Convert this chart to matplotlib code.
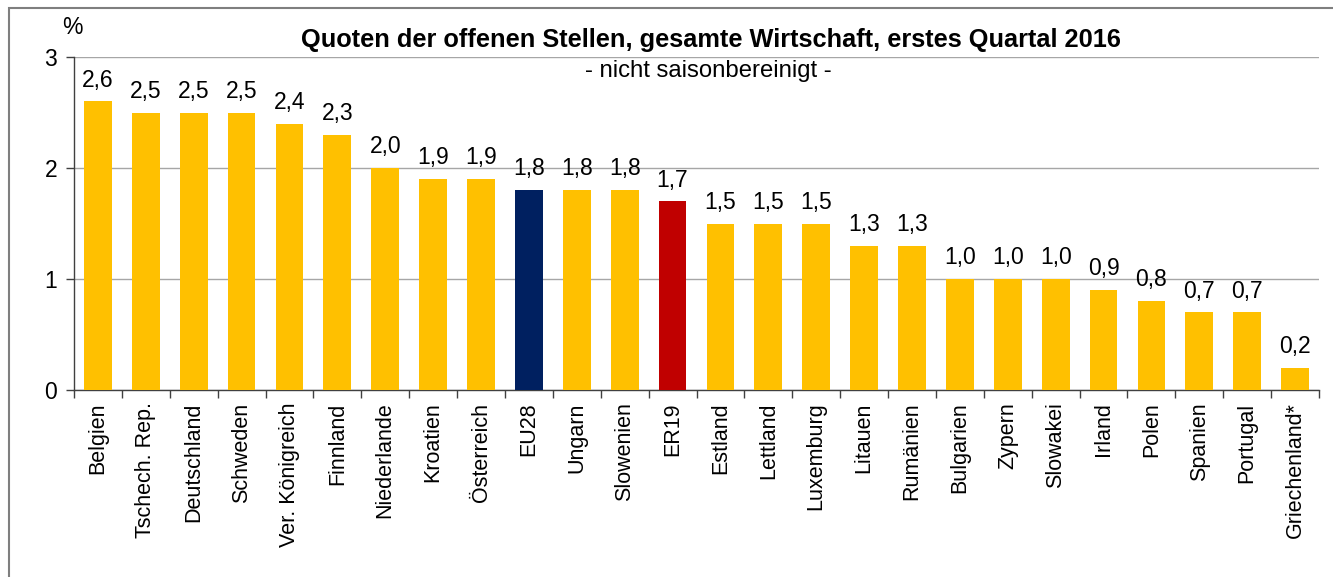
import matplotlib
matplotlib.use("Agg")
import matplotlib.pyplot as plt
from matplotlib.patches import Rectangle
from matplotlib.ticker import FixedLocator

plt.rcParams['font.family'] = ['Liberation Sans', 'DejaVu Sans']

countries = ["Belgien", "Tschech. Rep.", "Deutschland", "Schweden", "Ver. Königreich",
             "Finnland", "Niederlande", "Kroatien", "Österreich", "EU28", "Ungarn",
             "Slowenien", "ER19", "Estland", "Lettland", "Luxemburg", "Litauen",
             "Rumänien", "Bulgarien", "Zypern", "Slowakei", "Irland", "Polen",
             "Spanien", "Portugal", "Griechenland*"]
values = [2.6, 2.5, 2.5, 2.5, 2.4, 2.3, 2.0, 1.9, 1.9, 1.8, 1.8, 1.8, 1.7,
          1.5, 1.5, 1.5, 1.3, 1.3, 1.0, 1.0, 1.0, 0.9, 0.8, 0.7, 0.7, 0.2]
highlight = {"EU28": "#002060", "ER19": "#C00000"}
base_color = "#FFC000"
yticks = [0, 1, 2, 3]

W, H = 1333, 577
fig = plt.figure(figsize=(W / 100, H / 100), dpi=100)
ax = fig.add_axes([74 / W, 1 - 390 / H, (1319 - 74) / W, (390 - 57) / H])

colors = [highlight.get(c, base_color) for c in countries]
x = list(range(len(countries)))
bars = ax.bar(x, values, width=0.58, color=colors, zorder=3)

for xi, v in zip(x, values):
    ax.annotate(f"{v:.1f}".replace(".", ","), (xi, v), xytext=(0, 7),
                textcoords="offset points", ha="center", va="bottom", fontsize=16.5)

ax.set_xlim(-0.5, len(countries) - 0.5)
ax.set_ylim(0, 3)
ax.set_yticks(yticks)
ax.set_yticklabels([str(t) for t in yticks], fontsize=16.5)
ax.yaxis.grid(True, color="#A6A6A6", linewidth=1.0, zorder=0)
ax.set_axisbelow(True)

ax.set_xticks(x)
ax.set_xticklabels(countries, rotation=90, fontsize=15.5, va="top", ha="center")
ax.tick_params(axis="x", which="major", length=0, pad=9)
ax.xaxis.set_minor_locator(FixedLocator([i - 0.5 for i in range(len(countries) + 1)]))
ax.tick_params(axis="x", which="minor", length=6, width=1, color="#404040", direction="out")
ax.tick_params(axis="y", length=6, width=1, color="#404040", direction="out", pad=6)

for s in ["top", "right"]:
    ax.spines[s].set_visible(False)
for s in ["left", "bottom"]:
    ax.spines[s].set_color("#404040")
    ax.spines[s].set_linewidth(1.0)

fig.text(711 / W, 1 - 40 / H, "Quoten der offenen Stellen, gesamte Wirtschaft, erstes Quartal 2016",
         ha="center", va="center", fontsize=18.3, fontweight="bold")
fig.text(708 / W, 1 - 71 / H, "- nicht saisonbereinigt -", ha="center", va="center", fontsize=17.2)
fig.text(72 / W, 1 - 27 / H, "%", ha="center", va="center", fontsize=16.5)

fig.patches.append(Rectangle((9 / W, -0.1), 1.2, (1 - 8 / H) + 0.1, transform=fig.transFigure,
                             fill=False, edgecolor="#7F7F7F", linewidth=1.5))

fig.savefig("out.png", dpi=100)
